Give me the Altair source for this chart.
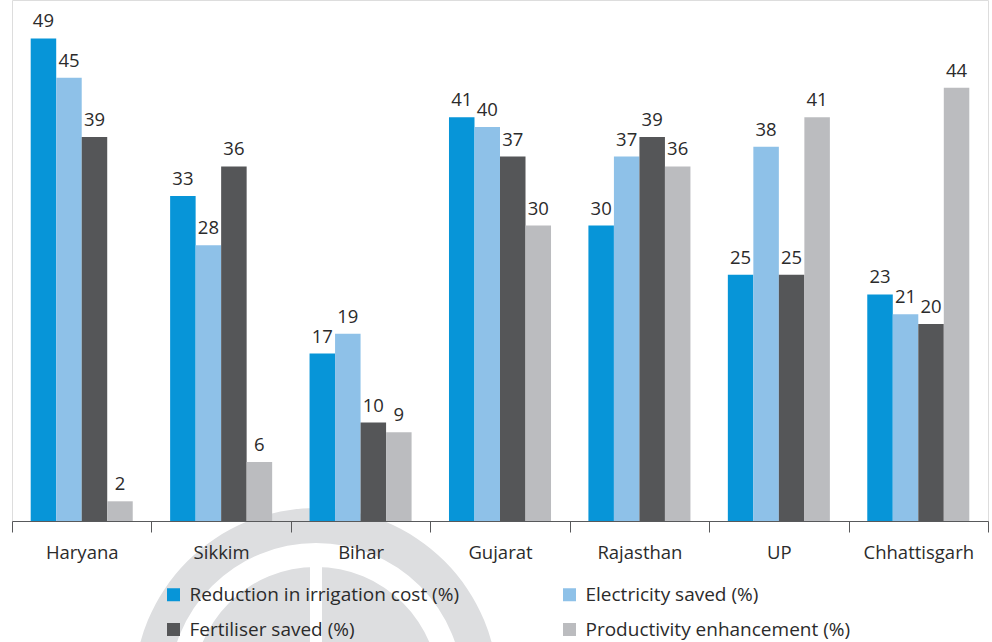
import altair as alt
import pandas as pd

# Categories and series
states = ["Haryana", "Sikkim", "Bihar", "Gujarat", "Rajasthan", "UP", "Chhattisgarh"]
series = [
    "Reduction in irrigation cost (%)",
    "Electricity saved (%)",
    "Fertiliser saved (%)",
    "Productivity enhancement (%)",
]

# Values per series, in the order of `states`
irrigation = [49, 33, 17, 41, 30, 25, 23]
electricity = [45, 28, 19, 40, 37, 38, 21]
fertiliser = [39, 36, 10, 37, 39, 25, 20]
productivity = [2, 6, 9, 30, 36, 41, 44]

colors = ["#0795d8", "#8ec1e8", "#555658", "#bbbcbf"]

rows = []
for name, vals in zip(series, [irrigation, electricity, fertiliser, productivity]):
    for st, v in zip(states, vals):
        rows.append({"state": st, "series": name, "value": v})
df = pd.DataFrame(rows)

W, H = 976, 521
FONT = "Open Sans"
TEXT = "#2b2b2b"
AXIS = "#58595b"
MARK_GREY = "#dddee0"

x_enc = alt.X(
    "state:N",
    sort=states,
    scale=alt.Scale(paddingInner=0, paddingOuter=0),
    axis=alt.Axis(
        title=None,
        labelAngle=0,
        tickBand="extent",
        tickSize=11,
        tickWidth=1,
        tickColor=AXIS,
        domainColor=AXIS,
        domainWidth=1,
        labelFont=FONT,
        labelFontSize=18.5,
        labelColor=TEXT,
        labelBaseline="alphabetic",
        labelPadding=26,
        zindex=1,
    ),
)
xoff_enc = alt.XOffset(
    "series:N", sort=series, scale=alt.Scale(paddingInner=0, paddingOuter=0.733)
)
y_enc = alt.Y("value:Q", scale=alt.Scale(domain=[0, 52.9], nice=False), axis=None)

# Background emblem: outer ring and inner dome split by a vertical gap
emblem_src = alt.Data(values=[{"k": 1}])
ring = alt.Chart(emblem_src).mark_arc(
    color=MARK_GREY, radius=182, radius2=147, theta=0, theta2=6.2832, x=304, y=690
).encode(opacity=alt.value(1))
dome = alt.Chart(emblem_src).mark_arc(
    color=MARK_GREY, radius=123, theta=0, theta2=6.2832, x=304, y=690
).encode(opacity=alt.value(1))
gap = alt.Chart(emblem_src).mark_rect(color="white").encode(
    x=alt.value(298), x2=alt.value(310), y=alt.value(560), y2=alt.value(700)
)

bars = alt.Chart(df).mark_bar().encode(
    x=x_enc,
    xOffset=xoff_enc,
    y=y_enc,
    color=alt.Color(
        "series:N",
        sort=series,
        scale=alt.Scale(domain=series, range=colors),
        legend=alt.Legend(
            title=None,
            orient="none",
            direction="horizontal",
            legendX=152,
            legendY=585,
            columns=2,
            symbolType="square",
            symbolSize=169,
            symbolStrokeWidth=0,
            symbolOpacity=1,
            labelFont=FONT,
            labelFontSize=19,
            labelColor=TEXT,
            labelOffset=6.5,
            labelLimit=500,
            rowPadding=15,
            columnPadding=100,
            padding=0,
        ),
    ),
)

labels = alt.Chart(df).mark_text(
    font=FONT, fontSize=18.5, color=TEXT, baseline="alphabetic", dy=-11
).encode(x=x_enc, xOffset=xoff_enc, y=y_enc, text=alt.Text("value:Q"))

chart = (
    alt.layer(ring, dome, gap, bars, labels)
    .properties(
        width=W,
        height=H,
        autosize=alt.AutoSizeParams(type="none"),
        padding={"left": 12, "top": 0, "right": 4, "bottom": 121},
    )
    .configure_view(stroke=None)
    .configure(background="white")
)

chart.save("out.html", embed_options={"renderer": "svg", "actions": False})
